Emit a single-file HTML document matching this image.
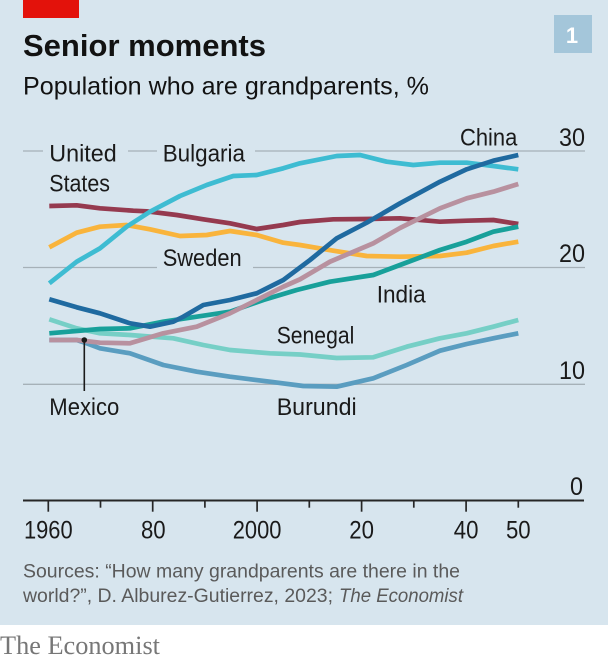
<!DOCTYPE html>
<html>
<head>
<meta charset="utf-8">
<style>
  html,body{margin:0;padding:0;background:#ffffff;}
  body{width:608px;height:662px;overflow:hidden;}
  svg{display:block;}
  text{font-family:"Liberation Sans",sans-serif;}
</style>
</head>
<body>
<svg width="608" height="662" viewBox="0 0 608 662" xmlns="http://www.w3.org/2000/svg">
  <!-- background -->
  <rect x="0" y="0" width="608" height="625" fill="#d7e5ee"/>
  <rect x="0" y="625" width="608" height="37" fill="#ffffff"/>

  <!-- red tag -->
  <rect x="23" y="0" width="56" height="18" fill="#e3120b"/>

  <!-- number box -->
  <rect x="554" y="15" width="38" height="38" fill="#a4c6da"/>
  <text x="572" y="43" font-size="22" font-weight="bold" fill="#ffffff" text-anchor="middle">1</text>

  <!-- title & subtitle -->
  <text x="23" y="56" font-size="31" font-weight="bold" fill="#121212" textLength="243" lengthAdjust="spacingAndGlyphs">Senior moments</text>
  <text x="23" y="94.3" font-size="25" fill="#121212" textLength="406" lengthAdjust="spacingAndGlyphs">Population who are grandparents, %</text>

  <!-- gridlines -->
  <g stroke="#a6b1b8" stroke-width="1.3" fill="none">
    <line x1="23" y1="151" x2="43" y2="151"/>
    <line x1="128" y1="151" x2="157" y2="151"/>
    <line x1="255" y1="151" x2="585" y2="151"/>
    <line x1="23" y1="267.5" x2="157" y2="267.5"/>
    <line x1="253" y1="267.5" x2="585" y2="267.5"/>
    <line x1="23" y1="384.3" x2="585" y2="384.3"/>
  </g>

  <!-- right axis labels -->
  <g font-size="25" fill="#1a1a1a" text-anchor="end">
    <text x="585" y="146" textLength="26" lengthAdjust="spacingAndGlyphs">30</text>
    <text x="585" y="262" textLength="26" lengthAdjust="spacingAndGlyphs">20</text>
    <text x="585" y="379" textLength="26" lengthAdjust="spacingAndGlyphs">10</text>
    <text x="583" y="495" textLength="13" lengthAdjust="spacingAndGlyphs">0</text>
  </g>

  <!-- series -->
  <g fill="none" stroke-width="4.7" stroke-linejoin="round" stroke-linecap="butt">
    <!-- Burundi -->
    <polyline stroke="#5a9dc0" points="49.3,340 76.7,340 86.7,343.3 100,348.3 130,353.3 163.3,365 196.7,371.7 230,376.7 270,381.7 303.3,386 336.7,386.7 373.3,378.3 406.7,365 440,350.7 466.7,344 493.3,338.3 518.3,333.3"/>
    <!-- Senegal -->
    <polyline stroke="#76cfc6" points="49.3,319.3 76.7,328.3 100,333.3 130,335 173.3,338.3 203.3,345 230,350 270,353.3 300,354.5 336.7,358 373.3,357.3 406.7,346.7 440,338.3 466.7,333.3 493.3,326.7 518.3,320"/>
    <!-- Sweden -->
    <polyline stroke="#f9b43c" points="49.3,247.3 76.7,232.7 100,226.7 126.7,225 150,229.3 180,236 206.7,235 230,231 256.7,235 283.3,242.7 300,245 333.3,250.7 366.7,256 400,256.7 440,256 466.7,252.7 493.3,246 518.3,241.7"/>
    <!-- United States -->
    <polyline stroke="#953a4f" points="49.3,206 76.7,205.3 100,208.3 133.3,210.7 146.7,211.3 176.7,215 203.3,219.3 230,223.3 256.7,229 283.3,225 300,222 333.3,219.3 366.7,219 400,218.3 440,221.7 466.7,220.7 493.3,220 518.3,224"/>
    <!-- Bulgaria -->
    <polyline stroke="#3ebcd2" points="49.3,283.3 76.7,261.7 100,248.3 126.7,226.7 150,211.7 180,196 206.7,185 233.3,176 256.7,175 283.3,168.3 300,163.3 336.7,156 360,155 386.7,161.7 413.3,165 440,162.7 466.7,162.7 493.3,166 518.3,169.3"/>
    <!-- India -->
    <polyline stroke="#18a09a" points="49.3,333.3 100,329 130,328.3 163.3,321.7 196.7,316.7 230,311.7 263.3,300 296.7,290 330,281.7 373.3,275 400,265 440,250 466.7,241.7 493.3,231.7 518.3,226.7"/>
    <!-- Mexico -->
    <polyline stroke="#b8919f" points="49.3,340 76.7,340 100,342.7 130,343.3 163.3,333.3 196.7,326.7 230,313.3 256.7,300 283.3,286.7 300,279.3 330,261.7 373.3,243.3 400,228 440,208.3 466.7,198.3 493.3,191.7 518.3,184"/>
    <!-- China -->
    <polyline stroke="#1f6aa0" points="49.3,299.3 76.7,307.3 100,313.3 130,323.3 150,326.7 173.3,321.7 183.3,316.7 203.3,305 230,300 256.7,293.3 283.3,280 310,260 336.7,238.3 366.7,222.7 400,203.3 440,181.7 466.7,169.3 493.3,160.7 518.3,155"/>
  </g>

  <!-- Mexico pointer -->
  <line x1="84.3" y1="340" x2="84.3" y2="391" stroke="#1a1a1a" stroke-width="1.6"/>
  <circle cx="84.3" cy="340" r="2.8" fill="#1a1a1a"/>

  <!-- series labels -->
  <g font-size="24.5" fill="#1a1a1a">
    <text x="49.3" y="161.7" textLength="67.4" lengthAdjust="spacingAndGlyphs">United</text>
    <text x="49.3" y="191.7" textLength="60.7" lengthAdjust="spacingAndGlyphs">States</text>
    <text x="162.7" y="161.7" textLength="82.3" lengthAdjust="spacingAndGlyphs">Bulgaria</text>
    <text x="162.7" y="266" textLength="79" lengthAdjust="spacingAndGlyphs">Sweden</text>
    <text x="460" y="145.7" textLength="57.3" lengthAdjust="spacingAndGlyphs">China</text>
    <text x="376.7" y="302.3" textLength="49" lengthAdjust="spacingAndGlyphs">India</text>
    <text x="276.7" y="343.3" textLength="77.6" lengthAdjust="spacingAndGlyphs">Senegal</text>
    <text x="276.7" y="415" textLength="80" lengthAdjust="spacingAndGlyphs">Burundi</text>
    <text x="49.3" y="415" textLength="70" lengthAdjust="spacingAndGlyphs">Mexico</text>
  </g>

  <!-- x axis -->
  <line x1="23" y1="500.5" x2="584" y2="500.5" stroke="#262626" stroke-width="1.9"/>
  <g stroke="#262626" stroke-width="1.7">
    <line x1="48.3" y1="500.5" x2="48.3" y2="511.7"/>
    <line x1="100.5" y1="500.5" x2="100.5" y2="507.7"/>
    <line x1="152.7" y1="500.5" x2="152.7" y2="511.7"/>
    <line x1="204.9" y1="500.5" x2="204.9" y2="507.7"/>
    <line x1="257.1" y1="500.5" x2="257.1" y2="511.7"/>
    <line x1="309.3" y1="500.5" x2="309.3" y2="507.7"/>
    <line x1="361.6" y1="500.5" x2="361.6" y2="511.7"/>
    <line x1="413.8" y1="500.5" x2="413.8" y2="507.7"/>
    <line x1="466.1" y1="500.5" x2="466.1" y2="511.7"/>
    <line x1="518.3" y1="500.5" x2="518.3" y2="507.7"/>
  </g>
  <g font-size="25" fill="#1a1a1a" text-anchor="middle">
    <text x="48.3" y="538.7" textLength="48.7" lengthAdjust="spacingAndGlyphs">1960</text>
    <text x="153.3" y="538.7" textLength="24.7" lengthAdjust="spacingAndGlyphs">80</text>
    <text x="257.1" y="538.7" textLength="48.7" lengthAdjust="spacingAndGlyphs">2000</text>
    <text x="361.6" y="538.7" textLength="24.7" lengthAdjust="spacingAndGlyphs">20</text>
    <text x="466.1" y="538.7" textLength="24.7" lengthAdjust="spacingAndGlyphs">40</text>
    <text x="518.3" y="538.7" textLength="24.7" lengthAdjust="spacingAndGlyphs">50</text>
  </g>

  <!-- sources -->
  <g font-size="19.5" fill="#5a5a5a">
    <text x="23" y="577.3" textLength="437" lengthAdjust="spacingAndGlyphs">Sources: “How many grandparents are there in the</text>
    <text x="23" y="602" textLength="310" lengthAdjust="spacingAndGlyphs">world?”, D. Alburez-Gutierrez, 2023;</text>
    <text x="339" y="602" font-style="italic" textLength="124" lengthAdjust="spacingAndGlyphs">The Economist</text>
  </g>

  <!-- footer -->
  <text x="0" y="654" font-size="26" fill="#777777" textLength="160" lengthAdjust="spacingAndGlyphs" style="font-family:'Liberation Serif',serif;">The Economist</text>
</svg>
</body>
</html>
